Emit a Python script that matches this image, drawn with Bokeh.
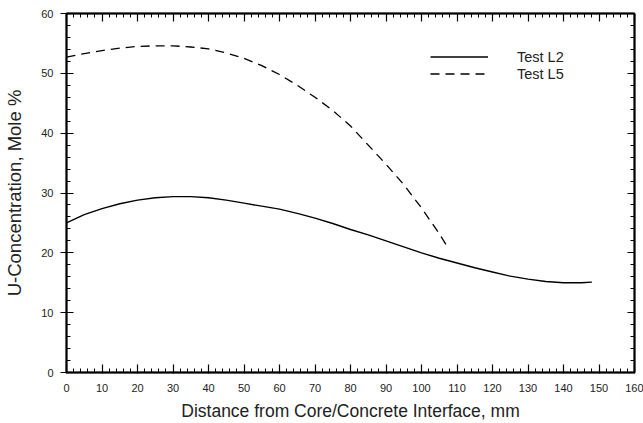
from bokeh.plotting import figure
from bokeh.models import (Range1d, LinearAxis, SingleIntervalTicker, Legend, LegendItem,
                          CustomJSTickFormatter)
from bokeh.embed import file_html
from bokeh.resources import INLINE

# Data
l2_x = [0, 5, 10, 15, 20, 25, 30, 35, 40, 45, 50, 55, 60, 65, 70, 75, 80, 85, 90, 95,
        100, 105, 110, 115, 120, 125, 130, 135, 140, 145, 148]
l2_y = [25.0, 26.4, 27.4, 28.2, 28.8, 29.2, 29.4, 29.4, 29.2, 28.8, 28.3, 27.8, 27.3, 26.6,
        25.8, 24.9, 23.9, 23.0, 22.0, 21.0, 20.0, 19.1, 18.3, 17.5, 16.8, 16.1, 15.6, 15.2,
        15.0, 15.0, 15.1]
l5_x = [0, 5, 10, 15, 20, 25, 30, 35, 40, 45, 50, 55, 60, 65, 70, 75, 80, 85, 90, 95,
        100, 105, 107]
l5_y = [52.7, 53.3, 53.8, 54.2, 54.5, 54.6, 54.6, 54.4, 54.1, 53.4, 52.5, 51.3, 49.8, 48.0,
        46.0, 43.8, 41.2, 38.0, 34.8, 31.4, 27.5, 23.2, 21.3]
series_names = ["Test L2", "Test L5"]
x_title = "Distance from Core/Concrete Interface, mm"
y_title = "U-Concentration, Mole %"

FONT = "Liberation Sans"

p = figure(width=643, height=423, output_backend="svg", toolbar_location=None,
           x_range=Range1d(0, 160), y_range=Range1d(0, 60),
           min_border_left=66, min_border_right=9, min_border_top=13, min_border_bottom=51,
           x_axis_label=x_title, y_axis_label=y_title)
p.xgrid.visible = False
p.ygrid.visible = False
p.outline_line_color = "black"
p.outline_line_width = 1.5
p.background_fill_color = "white"
p.border_fill_color = "white"

p.xaxis.ticker = SingleIntervalTicker(interval=10, num_minor_ticks=5)
p.yaxis.ticker = SingleIntervalTicker(interval=10, num_minor_ticks=5)


def style(ax):
    ax.axis_line_width = 2
    ax.axis_line_color = "black"
    ax.major_tick_line_color = "black"
    ax.minor_tick_line_color = "black"
    ax.major_tick_line_width = 1.2
    ax.minor_tick_line_width = 1
    ax.minor_tick_in = 4
    ax.minor_tick_out = 0
    ax.major_label_text_font = FONT
    ax.major_label_text_font_size = "11px"
    ax.major_label_text_color = "#222222"
    ax.axis_label_text_font = FONT
    ax.axis_label_text_font_style = "normal"
    ax.axis_label_text_color = "#222222"


for ax in p.xaxis:
    style(ax)
    ax.major_tick_in = 8
    ax.major_tick_out = 1
    ax.major_label_standoff = 10
    ax.axis_label_standoff = 6
    ax.axis_label_text_font_size = "17.5px"
for ax in p.yaxis:
    style(ax)
    ax.major_tick_in = 7
    ax.major_tick_out = 6
    ax.major_label_standoff = 7
    ax.axis_label_standoff = 13
    ax.axis_label_text_font_size = "18.5px"

blank = CustomJSTickFormatter(code="return ''")
top = LinearAxis(ticker=SingleIntervalTicker(interval=10, num_minor_ticks=5), formatter=blank)
style(top)
top.major_tick_in = 8
top.major_tick_out = 0
top.major_label_standoff = 0
top.axis_label_standoff = 0
top.major_label_text_font_size = "1px"
p.add_layout(top, "above")
right = LinearAxis(ticker=SingleIntervalTicker(interval=10, num_minor_ticks=5), formatter=blank)
style(right)
right.major_tick_in = 7
right.major_tick_out = 0
right.major_label_standoff = 0
right.axis_label_standoff = 0
right.major_label_text_font_size = "1px"
p.add_layout(right, "right")

r2 = p.line(l2_x, l2_y, line_color="black", line_width=1.4)
r5 = p.line(l5_x, l5_y, line_color="black", line_width=1.3, line_dash="9 6")

legend = Legend(items=[LegendItem(label=series_names[0], renderers=[r2]),
                       LegendItem(label=series_names[1], renderers=[r5])],
                location=(364, 290), padding=0, margin=0, spacing=0,
                glyph_width=58, glyph_height=17, label_height=17, label_standoff=29,
                border_line_alpha=0, background_fill_alpha=0,
                label_text_font=FONT, label_text_font_size="14.5px", label_text_color="#222222")
p.add_layout(legend, "center")

open("out.html", "w").write(file_html(p, INLINE))
